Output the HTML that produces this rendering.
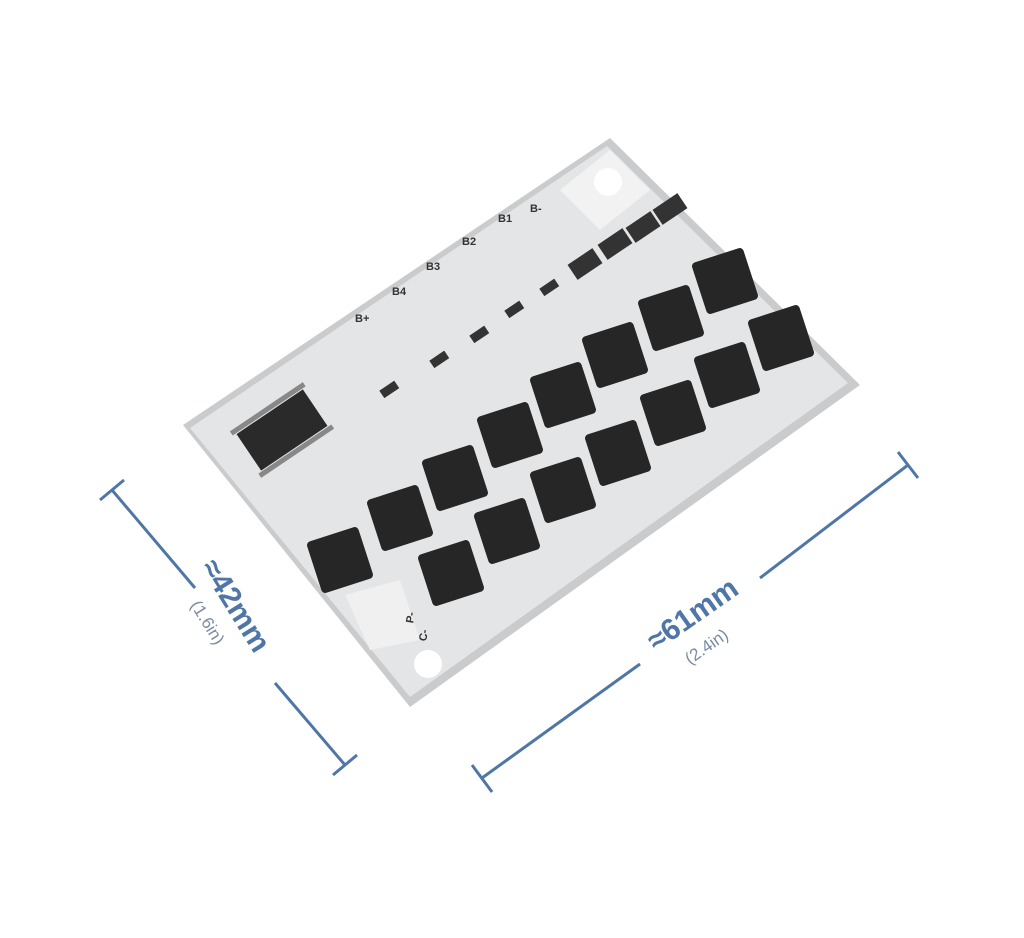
<!DOCTYPE html>
<html><head><style>
html,body{margin:0;padding:0;background:#fff;}
svg{display:block;}
text{font-family:"Liberation Sans",sans-serif;}
</style></head><body>
<svg width="1024" height="938" viewBox="0 0 1024 938" xmlns="http://www.w3.org/2000/svg">
<rect width="1024" height="938" fill="#fff"/>
<polygon points="183,425 610,138 860,385 410,707" fill="#c9cbcd"/>
<polygon points="190,428 607,146 848,383 410,697" fill="#e4e5e7"/>
<polygon points="560,190 610,150 650,190 600,230" fill="#f2f2f2"/>
<polygon points="345,595 400,580 420,640 370,650" fill="#f0f0f0"/>
<circle cx="608" cy="182" r="14" fill="#fff"/>
<circle cx="428" cy="664" r="14" fill="#fff"/>
<g transform="translate(282,430) rotate(-34)">
<rect x="-40" y="-22" width="80" height="44" fill="#2a2a2a"/>
<rect x="-44" y="-28" width="88" height="5" fill="#888"/>
<rect x="-44" y="23" width="88" height="5" fill="#888"/>
</g>
<g fill="#333">
<rect x="380" y="385" width="18" height="9" transform="rotate(-34 389 389)"/>
<rect x="430" y="355" width="18" height="9" transform="rotate(-34 439 359)"/>
<rect x="470" y="330" width="18" height="9" transform="rotate(-34 479 334)"/>
<rect x="505" y="305" width="18" height="9" transform="rotate(-34 514 309)"/>
<rect x="540" y="283" width="18" height="9" transform="rotate(-34 549 287)"/>
<rect x="570" y="255" width="30" height="18" transform="rotate(-34 585 264)"/>
<rect x="600" y="235" width="30" height="18" transform="rotate(-34 615 244)"/>
<rect x="628" y="218" width="30" height="18" transform="rotate(-34 643 227)"/>
<rect x="655" y="200" width="30" height="18" transform="rotate(-34 670 209)"/>
</g>
<g font-size="11" font-weight="bold" fill="#333">
<text x="355" y="322">B+</text><text x="392" y="295">B4</text><text x="426" y="270">B3</text><text x="462" y="245">B2</text><text x="498" y="222">B1</text><text x="530" y="212">B-</text>
<text x="405" y="622" transform="rotate(-80 410 618)">P-</text>
<text x="418" y="640" transform="rotate(-80 423 636)">C-</text>
</g>
<g fill="#262626">
<rect x="313" y="533" width="54" height="54" rx="4" transform="rotate(-18 340 560)"/>
<rect x="373" y="491" width="54" height="54" rx="4" transform="rotate(-18 400 518)"/>
<rect x="428" y="451" width="54" height="54" rx="4" transform="rotate(-18 455 478)"/>
<rect x="483" y="408" width="54" height="54" rx="4" transform="rotate(-18 510 435)"/>
<rect x="536" y="368" width="54" height="54" rx="4" transform="rotate(-18 563 395)"/>
<rect x="588" y="328" width="54" height="54" rx="4" transform="rotate(-18 615 355)"/>
<rect x="644" y="291" width="54" height="54" rx="4" transform="rotate(-18 671 318)"/>
<rect x="698" y="254" width="54" height="54" rx="4" transform="rotate(-18 725 281)"/>
<rect x="424" y="546" width="54" height="54" rx="4" transform="rotate(-18 451 573)"/>
<rect x="480" y="504" width="54" height="54" rx="4" transform="rotate(-18 507 531)"/>
<rect x="536" y="463" width="54" height="54" rx="4" transform="rotate(-18 563 490)"/>
<rect x="591" y="426" width="54" height="54" rx="4" transform="rotate(-18 618 453)"/>
<rect x="646" y="386" width="54" height="54" rx="4" transform="rotate(-18 673 413)"/>
<rect x="700" y="348" width="54" height="54" rx="4" transform="rotate(-18 727 375)"/>
<rect x="754" y="311" width="54" height="54" rx="4" transform="rotate(-18 781 338)"/>
</g>
<g stroke="#4f76a6" stroke-width="3" fill="none">
<line x1="112" y1="490" x2="195" y2="588"/>
<line x1="275" y1="683" x2="345" y2="765"/>
<line x1="100" y1="500" x2="124" y2="480"/>
<line x1="333" y1="775" x2="357" y2="755"/>
<line x1="482" y1="778" x2="640" y2="664"/>
<line x1="760" y1="578" x2="908" y2="465"/>
<line x1="472" y1="765" x2="492" y2="792"/>
<line x1="898" y1="452" x2="918" y2="478"/>
</g>
<g fill="#4f76a6">
<text transform="translate(200,567) rotate(58)" font-size="30" font-weight="bold">≈42mm</text>
<text transform="translate(190,605) rotate(58)" font-size="17" fill="#7a8ca3">(1.6in)</text>
<text transform="translate(656,652) rotate(-35)" font-size="30" font-weight="bold">≈61mm</text>
<text transform="translate(690,665) rotate(-35)" font-size="17" fill="#7a8ca3">(2.4in)</text>
</g>
</svg>
</body></html>
